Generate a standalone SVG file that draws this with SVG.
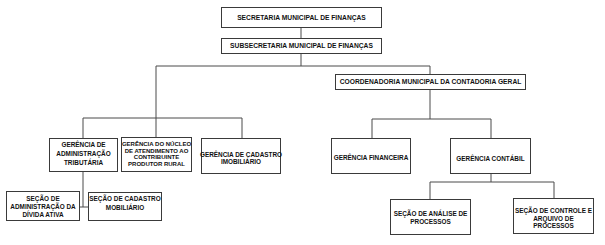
<svg xmlns="http://www.w3.org/2000/svg" width="605" height="245" viewBox="0 0 605 245">
<style>
.box{fill:#fff;stroke:#3a3a3a;stroke-width:1}
.ln{fill:none;stroke:#4a4a4a;stroke-width:1}
text{font-family:"Liberation Sans",Arial,sans-serif;font-weight:bold;font-size:6.4px;fill:#111;text-anchor:middle}
.top text{font-size:6.7px}
</style>
<rect width="605" height="245" fill="#fff"/>
<g id="connectors" class="ln">
<path d="M301 27V38"/>
<path d="M301 53V66H156V118"/>
<path d="M301 66H430V74"/>
<path d="M83 138V118H242V138"/>
<path d="M156 118V137"/>
<path d="M430 89V119"/>
<path d="M372 138V119H491V138"/>
<path d="M83 172V207"/>
<path d="M79 207H88"/>
<path d="M491 174V182"/>
<path d="M430 199V182H554V198"/>
</g>
<g class="top">
<g id="secretaria"><rect class="box" x="221.5" y="7.5" width="160" height="20"/><text x="301.5" y="19.5">SECRETARIA MUNICIPAL DE FINANÇAS</text></g>
<g id="subsecretaria"><rect class="box" x="221.5" y="38.5" width="160" height="15"/><text x="301.5" y="48.2">SUBSECRETARIA MUNICIPAL DE FINANÇAS</text></g>
<g id="coordenadoria"><rect class="box" x="335.5" y="74.5" width="190" height="15"/><text x="430.5" y="84.2">COORDENADORIA MUNICIPAL DA CONTADORIA GERAL</text></g>
</g>
<g id="ger-adm-trib"><rect class="box" x="49.5" y="138.5" width="68" height="33"/><text x="83.5" y="147.2">GERÊNCIA DE</text><text x="83.5" y="156.2">ADMINISTRAÇÃO</text><text x="83.5" y="164.7">TRIBUTÁRIA</text></g>
<g id="ger-nucleo"><rect class="box" x="121.5" y="137.5" width="70" height="34"/><text x="156.5" y="146.2" style="font-size:6px">GERÊNCIA DO NÚCLEO</text><text x="156.5" y="152.7" style="font-size:6px">DE ATENDIMENTO AO</text><text x="156.5" y="159.2" style="font-size:6px">CONTRIBUINTE</text><text x="156.5" y="165.7" style="font-size:6px">PRODUTOR RURAL</text></g>
<g id="ger-cad-imob"><rect class="box" x="201.5" y="138.5" width="79" height="35"/><text x="241" y="156.7">GERÊNCIA DE CADASTRO</text><text x="241" y="164.2">IMOBILIÁRIO</text></g>
<g id="sec-divida"><rect class="box" x="6.5" y="191.5" width="73" height="29"/><text x="43" y="200.7">SEÇÃO DE</text><text x="43" y="209.2">ADMINISTRAÇÃO DA</text><text x="43" y="217.2">DÍVIDA ATIVA</text></g>
<g id="sec-cad-mob"><rect class="box" x="88.5" y="192.5" width="73" height="28"/><text x="125" y="201.2">SEÇÃO DE CADASTRO</text><text x="125" y="209.7">MOBILIÁRIO</text></g>
<g id="ger-financeira"><rect class="box" x="331.5" y="138.5" width="79" height="35"/><text x="371" y="160.2">GERÊNCIA FINANCEIRA</text></g>
<g id="ger-contabil"><rect class="box" x="450.5" y="138.5" width="80" height="35"/><text x="490.5" y="160.7">GERÊNCIA CONTÁBIL</text></g>
<g id="sec-analise"><rect class="box" x="390.5" y="199.5" width="80" height="35"/><text x="430.5" y="216.2">SEÇÃO DE ANÁLISE DE</text><text x="430.5" y="224.2">PROCESSOS</text></g>
<g id="sec-controle"><rect class="box" x="513.5" y="198.5" width="80" height="35"/><text x="553.5" y="213.2">SEÇÃO DE CONTROLE E</text><text x="553.5" y="220.7">ARQUIVO DE</text><text x="553.5" y="228.2">PROCESSOS</text></g>
</svg>
